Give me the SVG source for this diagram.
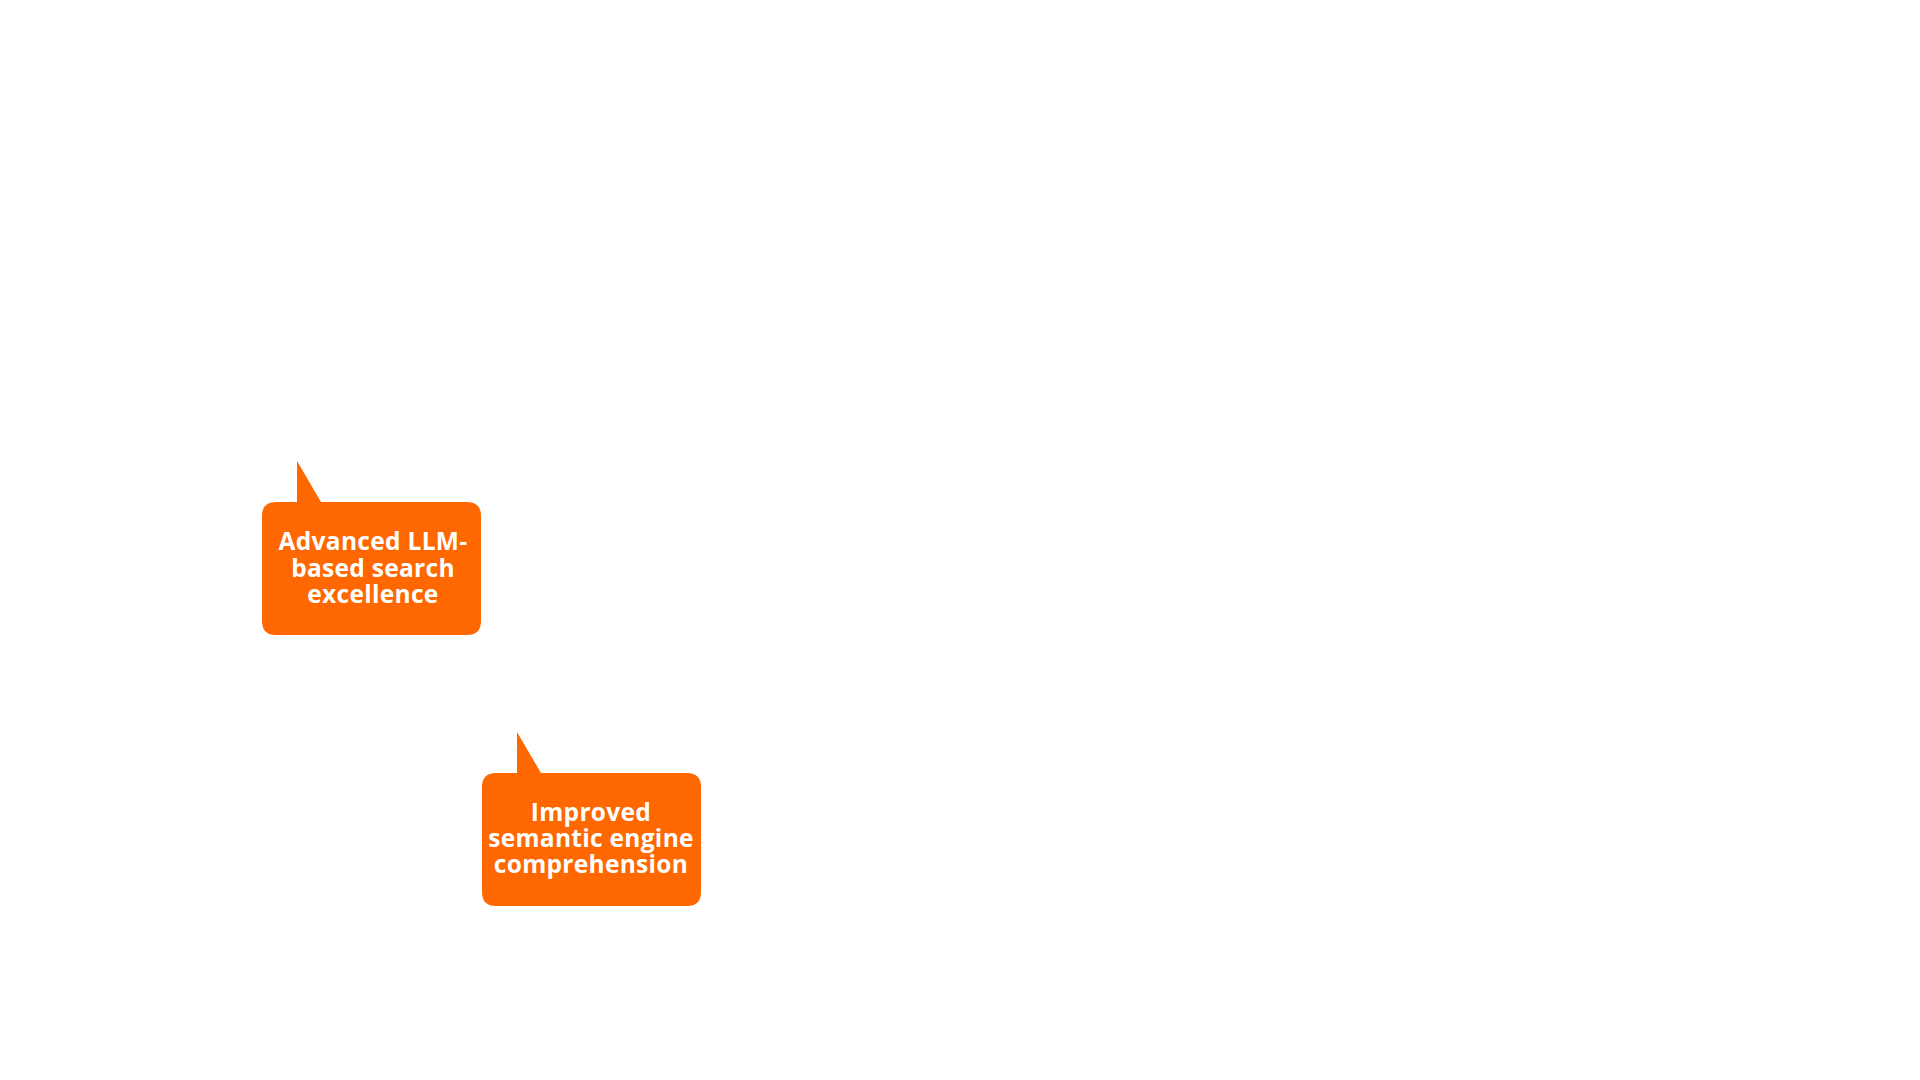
<svg xmlns="http://www.w3.org/2000/svg" width="1920" height="1080" viewBox="0 0 1920 1080">
<style>
.bubble{fill:#FF6700}
.label{font-family:"Open Sans","Liberation Sans",sans-serif;font-weight:700;font-size:24.5px;letter-spacing:0.3px;fill:#FFFFFF;text-anchor:middle}
</style>
<rect width="1920" height="1080" fill="#FFFFFF"/>
<g id="node-llm-search">
<path class="bubble" d="M297,461 L321,502 L467,502 Q481,502 481,516 L481,621 Q481,635 467,635 L276,635 Q262,635 262,621 L262,516 Q262,502 276,502 L297,502 Z"/>
<text class="label" x="373" y="550">Advanced LLM-</text>
<text class="label" x="373" y="577">based search</text>
<text class="label" x="373" y="603">excellence</text>
</g>
<g id="node-semantic-engine">
<path class="bubble" d="M517,732 L541,773 L687,773 Q701,773 701,787 L701,892 Q701,906 687,906 L496,906 Q482,906 482,892 L482,787 Q482,773 496,773 L517,773 Z"/>
<text class="label" x="591" y="821">Improved</text>
<text class="label" x="591" y="847">semantic engine</text>
<text class="label" x="591" y="873">comprehension</text>
</g>
<g id="connectors"></g>
</svg>
